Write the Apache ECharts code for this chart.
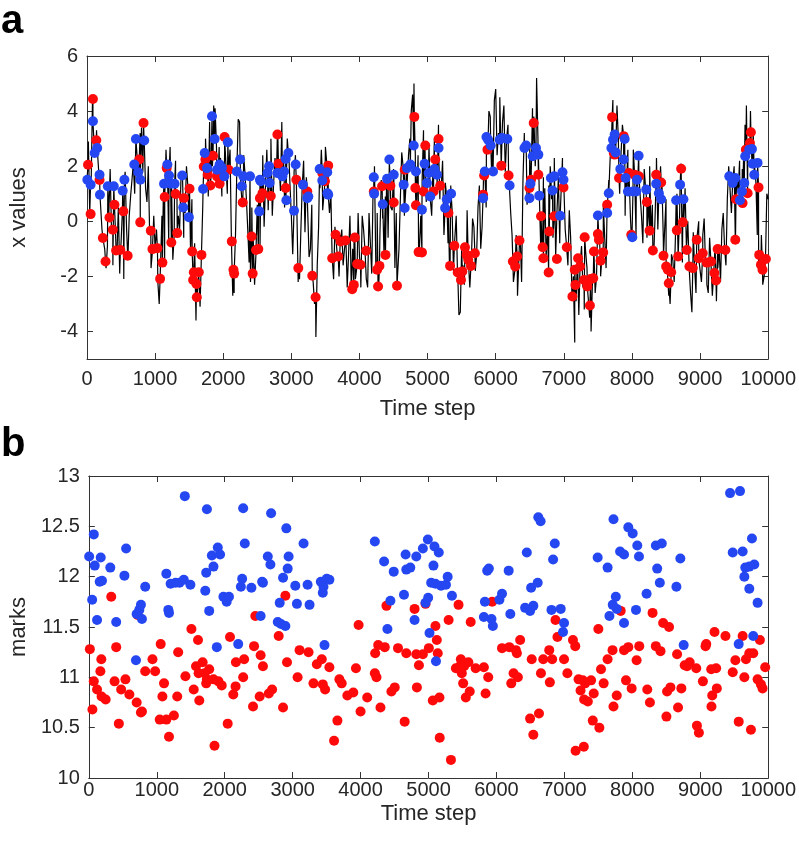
<!DOCTYPE html>
<html>
<head>
<meta charset="utf-8">
<script src="https://cdn.jsdelivr.net/npm/echarts@6/dist/echarts.min.js"></script>
<style>html,body{margin:0;padding:0;background:#fff;}#c{width:799px;height:843px;}</style>
</head>
<body>
<div id="c"></div>
<script>
// ---------- DATA ----------
const xTicks = [0,1000,2000,3000,4000,5000,6000,7000,8000,9000,10000];
const yTicksA = [-4,-2,0,2,4,6];
const yTicksB = [10,10.5,11,11.5,12,12.5,13];

// panel a: black time series on a 40-step grid (t = 0, 40, 80 ...)
const lineStep = 40;
const lineA = [
 1.5,0.3,4.3,2.5,2.7,0.9,-0.6,-1.7,0.2,-0.4,0.8,-1.2,-1.9,0.4,1.8,-1.4,0.9,2.1,3.0,1.6,3.4,2.8,0.7,-0.5,-1.1,
 -1.0,-2.2,-1.5,0.9,2.6,-0.8,1.5,-0.5,1.1,-0.3,1.8,0.3,1.3,-1.1,-2.3,-3.6,-1.9,-1.2,2.3,1.6,3.6,2.0,4.1,1.3,2.3,
 1.5,3.1,1.8,-0.7,-2.6,1.8,3.6,0.6,1.7,-0.3,-2.2,-0.6,-1.2,0.8,1.2,-0.2,2.6,1.3,0.2,2.3,3.3,1.1,2.4,0.8,2.6,
 0.2,1.8,0.5,-2.1,1.3,-0.4,0.9,-1.0,-2.2,-4.2,-0.2,2.6,1.0,2.1,0.3,-1.5,-0.2,-1.4,-0.5,-1.6,-0.6,-1.2,-2.5,-0.5,-1.7,
 -1.3,0.2,-1.0,-2.4,-0.8,1.2,-1.6,-2.5,1.5,-1.2,1.7,2.1,0.4,-1.7,-2.4,0.8,2.0,0.5,2.4,4.0,5.0,0.6,-1.0,1.5,2.8,
 1.2,0.8,2.0,2.4,3.5,1.2,-0.5,0.9,-1.5,0.4,-0.9,-2.0,-3.3,-1.6,-0.8,-1.5,-1.7,-0.2,-1.2,1.3,-0.2,1.8,2.6,3.8,3.0,
 4.8,3.2,2.1,4.2,3.0,1.3,-0.5,-1.8,-2.7,-0.6,1.5,2.9,1.0,1.6,3.8,5.2,1.0,-0.8,1.2,-0.3,2.0,-0.6,-1.3,1.6,0.2,
 1.3,-0.9,0.4,-2.8,-4.4,-1.3,-1.7,-2.4,-1.1,-2.4,-4.0,-1.0,-2.0,-0.5,-1.3,-0.6,0.6,2.3,4.4,2.4,3.0,1.9,3.2,1.2,1.8,
 -0.6,1.7,1.1,1.6,-0.8,1.2,0.7,-0.5,-1.2,2.3,1.0,1.4,-1.3,-1.8,-3.0,-1.4,-0.4,-1.3,2.1,-0.1,-1.0,-1.7,-3.3,-1.7,-0.6,
 -1.3,-0.5,-1.6,-2.6,-1.5,-1.9,-2.9,-1.0,-0.3,-1.0,0.8,1.7,1.4,-0.7,1.1,0.7,2.5,4.2,3.0,2.2,2.0,-0.5,-1.8,-2.3,-1.4,0.8
];
// same series, read at the in-between steps (t = 20, 60, 100 ...)
const lineOffset = 20;
const lineB = [
 2.9,1.2,3.0,3.3,1.5,-0.3,-1.0,-0.9,1.9,-1.6,-0.5,0.5,-0.8,-2.1,-0.2,0.2,1.5,1.0,2.2,3.2,1.8,1.2,2.0,-1.7,0.2,
 -0.3,-3.0,0.2,-1.6,1.2,2.7,-1.4,2.2,0.2,1.6,-0.6,2.0,0.4,0.8,-0.8,-2.6,-3.1,0.6,3.0,0.9,1.6,4.2,2.8,2.7,0.9,
 2.5,1.0,2.6,-2.7,-0.5,3.7,1.2,2.4,0.8,-1.5,0.5,-2.3,0.6,-0.9,2.4,1.3,0.4,3.0,1.4,1.6,2.0,3.6,0.5,3.0,1.3,
 -1.2,2.4,-2.2,-0.3,2.2,1.6,-1.3,0.6,-3.0,-1.6,1.2,0.4,2.7,1.5,1.0,-2.1,-0.8,-2.0,-0.3,-1.0,-2.4,0.2,-1.0,-2.1,0.3,
 -2.4,-0.3,-2.1,0.3,-1.9,2.0,0.3,-0.5,0.1,0.9,-0.6,0.5,1.9,0.3,-1.0,2.5,0.2,1.4,3.0,4.6,2.4,2.4,0.2,3.3,0.7,
 2.8,0.2,3.0,1.3,0.8,2.2,1.4,-0.8,1.3,-1.8,0.2,-3.4,-1.0,-2.3,0.4,-2.4,0.1,-1.8,0.5,-1.0,1.5,0.5,4.0,1.8,4.4,
 2.4,4.5,3.6,1.8,3.5,0.3,-2.2,-0.5,-1.4,-2.2,3.2,0.6,2.7,4.1,2.0,3.0,-0.9,1.6,-1.3,1.3,0.8,2.3,0.4,-0.8,2.3,
 -0.3,-1.6,-0.6,-2.0,-2.9,-3.4,-0.9,-3.2,-1.7,-3.5,-2.2,-2.6,0.2,-2.0,0.6,-1.7,1.5,3.0,3.2,4.2,1.0,3.5,0.2,2.6,0.0,
 2.6,-0.5,2.2,0.2,1.9,-0.6,2.0,0.6,0.2,-0.3,2.0,-0.6,0.8,-2.7,-1.2,-2.2,1.0,0.3,-1.5,1.2,0.0,-2.6,-0.4,-2.6,0.0,
 -2.2,0.1,-2.3,-0.6,-2.7,-0.9,-1.7,-2.2,0.3,-1.6,2.0,0.3,2.0,1.5,2.2,1.9,3.5,2.2,4.0,3.3,1.4,-1.7,-0.5,-2.0,1.0
];

// panel a: red events [time, x]
const redA = [[15,2.05],[53,0.26],[87,4.44],[136,2.94],[184,1.5],[233,-0.61],[272,-1.46],[330,0.14],[379,-0.31],[403,0.6],[427,-1.06],[490,-1.04],[534,0.36],[597,-1.25],[767,2.24],[782,-0.04],[830,3.57],[937,-0.34],[961,-1.01],[1034,-0.98],[1073,-2.09],[1107,-1.5],[1141,0.88],[1170,1.93],[1238,-0.77],[1301,0.99],[1325,-0.43],[1422,0.84],[1505,1.18],[1544,-1.1],[1558,-2.13],[1568,-1.85],[1607,-2.28],[1612,-2.76],[1641,-1.85],[1680,-1.22],[1714,1.99],[1738,2.24],[1772,1.69],[1811,1.3],[1850,2.38],[1908,1.63],[1947,1.36],[2020,3.06],[2078,1.87],[2126,-0.73],[2150,-1.76],[2160,-1.9],[2286,0.68],[2417,-0.55],[2432,-1.9],[2481,-1.04],[2515,-1.01],[2539,0.84],[2576,1.02],[2698,0.92],[2795,3.15],[2810,2.09],[2917,1.21],[3073,1.51],[3102,-1.7],[3234,1.08],[3307,-1.98],[3356,-2.76],[3454,1.75],[3493,1.45],[3541,2.02],[3600,-1.34],[3649,-0.49],[3688,-1.28],[3722,-0.73],[3795,-0.7],[3893,-2.47],[3917,-2.31],[3932,-0.59],[3966,-1.55],[4015,-1.58],[4098,-1.07],[4210,1.08],[4259,-1.76],[4273,-2.37],[4293,-1.62],[4332,1.27],[4381,-1.22],[4454,1.29],[4503,0.68],[4551,-2.34],[4664,1.87],[4805,3.79],[4820,1.21],[4829,0.58],[4868,-1.12],[4917,-1.13],[4942,1.08],[4966,2.75],[5088,1.08],[5112,2.24],[5161,2.99],[5185,1.29],[5306,0.3],[5330,-1.62],[5393,-0.89],[5442,-1.86],[5490,-2.13],[5510,-1.82],[5549,-0.94],[5573,-1.22],[5597,-1.4],[5636,-1.62],[5694,-1.16],[5815,0.96],[5830,1.66],[5879,2.6],[6082,2.02],[6189,1.66],[6252,-1.46],[6286,-1.64],[6315,-1.28],[6349,-0.7],[6495,1.21],[6519,1.51],[6558,3.57],[6626,1.69],[6665,0.18],[6689,-0.94],[6700,-1.34],[6777,-1.86],[6786,-0.37],[6859,0.18],[6898,-1.37],[6995,1.23],[7044,-0.94],[7126,-2.73],[7160,-1.76],[7170,-2.31],[7209,-1.34],[7238,-1.64],[7296,-2.13],[7306,-0.58],[7345,-2.37],[7383,-3.06],[7393,-2.1],[7432,-2.07],[7442,-1.1],[7500,-0.46],[7515,-0.67],[7539,-1.43],[7578,-1.13],[7636,0.6],[7709,3.78],[7733,2.48],[7746,2.42],[7810,1.57],[7878,3.09],[7956,1.75],[7990,-0.49],[8039,1.69],[8102,1.63],[8219,0.7],[8259,-0.34],[8307,-1.06],[8356,1.69],[8429,1.41],[8463,-1.25],[8502,-1.64],[8527,-1.76],[8541,-2.25],[8576,-1.85],[8659,-0.33],[8678,-1.28],[8722,1.91],[8746,-0.04],[8805,-1.04],[8844,-1.64],[8893,-1.7],[8951,-0.67],[8980,-1.34],[9039,-1.16],[9098,-1.5],[9161,-1.46],[9210,-1.88],[9234,-2.15],[9258,-1.01],[9371,-1.04],[9517,-0.67],[9527,0.8],[9624,0.66],[9673,2.6],[9698,1.02],[9732,2.84],[9746,3.23],[9858,1.23],[9868,-1.22],[9893,-1.58],[9917,-1.76],[9966,-1.37]];

// panel a: blue events [time, x]
const blueA = [[5,1.51],[53,1.33],[87,3.63],[112,2.48],[150,2.66],[184,1.69],[190,0.96],[306,1.27],[393,1.27],[524,1.11],[549,1.51],[694,2.06],[718,2.99],[752,1.78],[782,1.51],[840,2.93],[1131,1.36],[1180,2.06],[1204,1.66],[1228,1.36],[1286,1.36],[1398,1.66],[1413,0.5],[1495,0.15],[1704,1.17],[1728,2.48],[1762,1.93],[1835,3.81],[1874,2.99],[1908,1.87],[1947,2.06],[1981,1.93],[2015,1.63],[2068,2.87],[2199,1.81],[2248,2.24],[2272,1.27],[2296,1.63],[2393,1.63],[2529,0.36],[2539,1.51],[2551,1.45],[2649,1.75],[2673,2.0],[2680,1.39],[2795,1.75],[2868,1.63],[2893,1.81],[2917,2.26],[2927,0.76],[2956,2.48],[3039,0.38],[3063,2.06],[3171,1.33],[3234,0.84],[3249,0.9],[3415,1.9],[3454,1.48],[3527,1.78],[3530,1.02],[3541,0.96],[4210,1.6],[4215,1.0],[4342,0.62],[4405,1.54],[4439,2.24],[4503,1.69],[4649,1.33],[4664,0.48],[4698,1.93],[4747,2.06],[4796,2.75],[4829,1.81],[4917,0.42],[4956,2.09],[4990,1.39],[5015,1.75],[5039,0.9],[5088,1.81],[5100,1.9],[5137,1.69],[5161,2.66],[5257,0.48],[5282,0.8],[5345,1.0],[5815,0.84],[5840,1.81],[5864,3.06],[5888,2.96],[5927,2.75],[5961,1.81],[6058,2.96],[6092,3.02],[6170,2.99],[6204,1.3],[6422,2.66],[6447,2.75],[6495,0.84],[6510,1.36],[6543,2.36],[6591,2.66],[6626,2.42],[6640,0.93],[6810,1.57],[6834,1.12],[6859,1.63],[6946,0.2],[6980,1.78],[6995,1.51],[7500,0.21],[7636,0.3],[7660,1.02],[7698,2.66],[7722,2.96],[7746,3.15],[7761,2.5],[7829,1.9],[7878,2.24],[7893,2.99],[7907,1.57],[7941,1.08],[8005,-0.58],[8015,1.08],[8063,1.08],[8073,1.51],[8098,2.38],[8210,1.15],[8356,1.36],[8395,1.02],[8429,0.8],[8649,0.76],[8707,1.33],[8756,0.8],[9429,1.63],[9478,1.39],[9517,1.57],[9585,0.76],[9615,1.08],[9649,1.39],[9663,2.36],[9722,2.6],[9761,2.62],[9771,2.09],[9795,1.69],[9844,2.12]];

// panel b: red marks [time, mark]
const redB = [[15,11.28],[53,10.68],[73,10.96],[121,10.88],[170,11.06],[184,11.18],[188,10.81],[248,10.78],[330,11.8],[379,10.96],[403,11.3],[442,10.54],[476,10.88],[539,10.98],[597,10.83],[704,10.75],[718,11.62],[767,10.65],[782,10.66],[830,11.06],[937,11.18],[976,11.06],[1044,10.58],[1058,11.33],[1083,10.81],[1107,10.94],[1141,10.58],[1180,10.41],[1252,10.62],[1301,10.81],[1315,11.25],[1422,11.01],[1510,11.48],[1544,10.88],[1578,11.11],[1607,11.37],[1616,11.04],[1626,10.77],[1675,11.15],[1704,11.04],[1728,10.94],[1738,10.98],[1772,11.08],[1835,10.98],[1850,10.32],[1908,10.96],[1956,10.92],[2044,10.54],[2078,11.4],[2126,10.83],[2160,10.91],[2165,11.15],[2272,11.0],[2286,11.18],[2417,10.71],[2432,11.31],[2451,11.61],[2515,10.81],[2529,11.22],[2563,11.11],[2649,10.84],[2698,10.88],[2795,11.41],[2859,10.7],[2893,11.81],[2917,11.15],[3073,11.0],[3102,11.27],[3234,11.25],[3307,10.94],[3356,11.13],[3429,11.18],[3444,10.93],[3478,10.88],[3541,11.1],[3610,10.37],[3659,10.57],[3688,10.98],[3722,10.94],[3805,10.82],[3893,10.85],[3932,11.09],[3971,11.52],[4000,10.66],[4098,10.8],[4210,11.04],[4215,11.24],[4234,11.0],[4259,11.32],[4293,10.7],[4356,11.3],[4381,11.71],[4454,10.86],[4503,10.9],[4551,11.29],[4649,10.56],[4673,11.24],[4795,11.68],[4820,11.23],[4829,10.9],[4859,11.12],[4917,11.23],[4956,11.73],[5005,11.29],[5063,10.77],[5102,11.51],[5122,11.37],[5136,11.24],[5161,10.8],[5165,10.4],[5296,11.57],[5330,10.18],[5403,11.09],[5442,11.72],[5461,11.11],[5476,11.18],[5490,11.04],[5510,10.94],[5524,11.11],[5549,10.8],[5587,11.15],[5607,10.86],[5621,11.55],[5694,11.09],[5815,11.1],[5840,10.84],[5879,11.0],[5937,11.75],[6082,11.29],[6189,11.3],[6218,10.94],[6252,11.04],[6286,11.27],[6301,11.24],[6315,11.0],[6349,11.37],[6495,10.59],[6519,11.18],[6543,10.43],[6626,10.64],[6655,11.04],[6689,11.18],[6777,11.27],[6786,10.95],[6820,11.18],[6869,11.57],[6898,11.4],[6995,11.18],[7044,11.04],[7126,11.37],[7160,11.31],[7165,10.27],[7209,10.98],[7238,10.87],[7272,10.97],[7286,10.31],[7290,10.78],[7306,10.94],[7345,10.76],[7393,10.97],[7418,10.57],[7432,10.84],[7500,11.48],[7515,10.5],[7539,11.08],[7578,10.94],[7636,11.18],[7709,11.27],[7723,10.71],[7771,10.82],[7829,11.66],[7878,11.27],[7907,10.97],[7941,11.3],[7990,10.89],[8063,11.17],[8102,11.31],[8220,10.88],[8259,10.75],[8298,11.64],[8346,11.31],[8415,11.26],[8454,11.54],[8502,10.61],[8512,10.86],[8541,11.5],[8561,10.9],[8659,11.23],[8673,10.7],[8722,10.89],[8771,11.12],[8805,11.11],[8844,11.15],[8941,11.09],[8951,10.52],[8980,10.45],[9039,10.96],[9078,11.31],[9088,11.33],[9161,11.08],[9165,10.71],[9176,10.82],[9210,11.45],[9234,11.09],[9244,10.89],[9371,11.41],[9478,11.05],[9517,11.17],[9566,10.56],[9624,11.41],[9649,11.0],[9673,11.18],[9722,11.24],[9746,10.48],[9780,11.24],[9844,10.98],[9878,11.37],[9893,10.93],[9917,10.89],[9956,11.1]];

// panel b: blue marks [time, mark]
const blueB = [[5,12.2],[49,11.77],[73,12.42],[87,12.11],[121,11.57],[160,11.95],[175,12.19],[194,11.96],[316,12.09],[403,11.55],[524,12.01],[549,12.28],[694,11.17],[704,11.63],[743,11.67],[767,11.72],[782,11.58],[830,11.9],[1141,12.03],[1170,11.67],[1180,11.64],[1204,11.93],[1277,11.94],[1335,11.94],[1398,11.97],[1413,12.8],[1495,11.92],[1714,11.86],[1728,12.04],[1738,12.67],[1772,11.66],[1811,12.21],[1835,12.1],[1884,11.3],[1898,12.29],[1932,12.22],[1981,11.8],[2029,11.75],[2063,11.8],[2199,11.33],[2238,11.9],[2257,11.98],[2272,12.68],[2296,12.33],[2393,11.89],[2529,11.61],[2551,11.95],[2563,11.94],[2634,12.2],[2673,12.12],[2683,12.63],[2781,11.55],[2810,11.74],[2829,11.53],[2859,11.99],[2893,11.51],[2907,12.48],[2927,12.08],[2941,12.2],[3039,11.91],[3063,11.73],[3161,12.33],[3220,11.92],[3249,11.72],[3415,11.95],[3444,11.84],[3454,11.9],[3469,11.32],[3502,11.98],[3541,11.97],[4210,12.35],[4346,12.15],[4395,11.48],[4439,11.76],[4488,12.05],[4639,11.82],[4663,12.22],[4673,12.07],[4732,12.09],[4795,11.57],[4820,12.2],[4917,12.28],[4956,11.74],[4990,12.37],[4995,11.79],[5015,11.44],[5039,11.94],[5073,12.11],[5088,12.3],[5102,11.93],[5110,11.16],[5151,12.24],[5184,11.91],[5257,11.92],[5282,12.0],[5345,11.81],[5815,11.6],[5830,11.75],[5864,12.06],[5888,12.08],[5927,11.58],[5947,11.51],[6044,11.77],[6082,11.83],[6180,12.06],[6204,11.63],[6422,11.69],[6447,12.24],[6495,11.66],[6510,11.89],[6543,11.71],[6607,11.94],[6616,12.59],[6650,12.55],[6810,11.67],[6834,12.17],[6859,12.33],[6946,11.68],[6980,11.45],[6995,11.54],[7490,12.19],[7636,12.09],[7663,11.61],[7712,11.72],[7723,12.57],[7757,11.8],[7771,11.68],[7820,12.25],[7878,12.22],[7878,11.54],[7941,12.49],[8005,12.43],[8054,11.67],[8073,12.31],[8098,12.2],[8210,11.83],[8346,12.31],[8366,12.08],[8405,11.94],[8434,12.33],[8649,11.9],[8707,12.18],[8756,11.32],[9439,12.83],[9478,12.24],[9566,11.33],[9585,12.85],[9624,12.25],[9649,12.0],[9663,12.09],[9722,12.1],[9722,11.88],[9761,12.38],[9780,11.41],[9795,12.12],[9844,11.74]];

// ---------- CHART ----------
const FONT = "'Liberation Sans', Arial, Helvetica, sans-serif";
const TXT = '#262626';
const AX = '#333333';
const RED = '#ff0a0a';
const BLUE = '#2547f2';

// the trajectory passes through all event points (they lie on it)
const linePts = lineA.map((v, i) => [i * lineStep, v])
  .concat(lineB.map((v, i) => [lineOffset + i * lineStep, v]))
  .concat(redA, blueA)
  .sort((a, b) => a[0] - b[0]);

function xAx(grid, pos, withLabels, margin, nameGap) {
  const o = {
    type: 'value', gridIndex: grid, position: pos, min: 0, max: 10000, interval: 1000,
    axisLine: { show: true, onZero: false, lineStyle: { color: AX, width: 1 } },
    axisTick: { show: true, inside: true, length: 6, lineStyle: { color: AX } },
    axisLabel: { show: withLabels, margin: margin, fontSize: 20, color: TXT, fontFamily: FONT,
                 customValues: xTicks, formatter: v => String(v) },
    splitLine: { show: false }
  };
  if (withLabels) {
    o.name = 'Time step'; o.nameLocation = 'middle'; o.nameGap = nameGap;
    o.nameTextStyle = { fontSize: 22, color: TXT, fontFamily: FONT };
  }
  return o;
}
function yAx(grid, pos, withLabels, min, max, interval, ticks, name) {
  const o = {
    type: 'value', gridIndex: grid, position: pos, min: min, max: max, interval: interval,
    axisLine: { show: true, onZero: false, lineStyle: { color: AX, width: 1 } },
    axisTick: { show: true, inside: true, length: 6, lineStyle: { color: AX }, customValues: ticks },
    axisLabel: { show: withLabels, margin: 9, fontSize: 20, color: TXT, fontFamily: FONT,
                 customValues: ticks, formatter: v => String(v) },
    splitLine: { show: false }
  };
  if (withLabels) {
    o.name = name; o.nameLocation = 'middle'; o.nameGap = 57; o.nameRotate = 90;
    o.nameTextStyle = { fontSize: 22, color: TXT, fontFamily: FONT };
  }
  return o;
}

const chart = echarts.init(document.getElementById('c'));
chart.setOption({
  animation: false,
  backgroundColor: '#fff',
  grid: [
    { left: 82, top: 56, width: 687, height: 303 },
    { left: 82, top: 476, width: 687, height: 302 }
  ],
  xAxis: [
    xAx(0, 'bottom', true, 10, 39),
    xAx(0, 'top', false, 0, 0),
    xAx(1, 'bottom', true, 2, 25),
    xAx(1, 'top', false, 0, 0)
  ],
  yAxis: [
    yAx(0, 'left', true, -5, 6, 1, yTicksA, 'x values'),
    yAx(0, 'right', false, -5, 6, 1, yTicksA, ''),
    yAx(1, 'left', true, 10, 13, 0.5, yTicksB, 'marks'),
    yAx(1, 'right', false, 10, 13, 0.5, yTicksB, '')
  ],
  graphic: [
    { type: 'text', left: 1, top: 2, style: { text: 'a', fontSize: 40, fontWeight: 'bold', fill: '#000', fontFamily: FONT } },
    { type: 'text', left: 1, top: 425, style: { text: 'b', fontSize: 40, fontWeight: 'bold', fill: '#000', fontFamily: FONT } }
  ],
  series: [
    { type: 'line', xAxisIndex: 0, yAxisIndex: 0, data: linePts, showSymbol: false, symbol: 'none',
      lineStyle: { color: '#000', width: 1.2 }, silent: true, z: 1 },
    { type: 'scatter', xAxisIndex: 0, yAxisIndex: 0, data: redA, symbolSize: 10, itemStyle: { color: RED, opacity: 1 }, z: 2 },
    { type: 'scatter', xAxisIndex: 0, yAxisIndex: 0, data: blueA, symbolSize: 10, itemStyle: { color: BLUE, opacity: 1 }, z: 3 },
    { type: 'scatter', xAxisIndex: 2, yAxisIndex: 2, data: redB, symbolSize: 10, itemStyle: { color: RED, opacity: 1 }, z: 2 },
    { type: 'scatter', xAxisIndex: 2, yAxisIndex: 2, data: blueB, symbolSize: 10, itemStyle: { color: BLUE, opacity: 1 }, z: 3 }
  ]
});
</script>
</body>
</html>
